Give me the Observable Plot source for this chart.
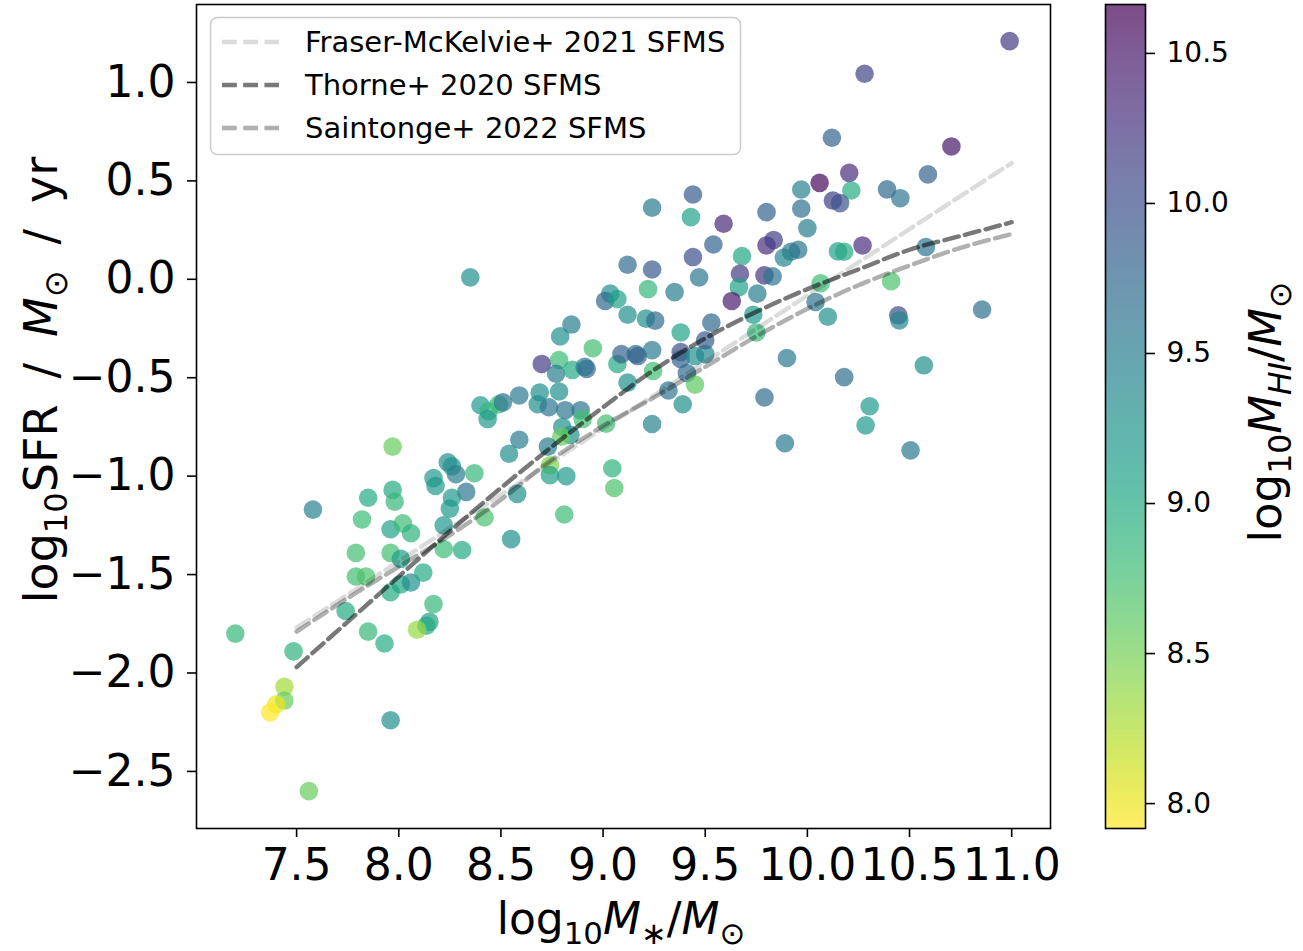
<!DOCTYPE html>
<html>
<head>
<meta charset="utf-8">
<script src="https://cdn.jsdelivr.net/npm/d3@7"></script>
<script src="https://cdn.jsdelivr.net/npm/@observablehq/plot@0.6"></script>
<style>
  html, body { margin: 0; padding: 0; background: white; }
  #wrap { position: relative; width: 1303px; height: 951px; overflow: hidden; font-family: "DejaVu Sans", sans-serif; }
  #main { position: absolute; left: 0; top: 0; }
  #cbar { position: absolute; left: 1090px; top: 0; }
</style>
</head>
<body>
<div id="wrap"><div id="main"></div><div id="cbar"></div></div>
<script>
// ---- data ----
const logMstar = [7.20,7.485,7.74,7.79,7.84,7.96,8.01,8.06,8.12,8.17,8.15,8.135,8.09,7.85,7.93,7.44,7.44,7.40,7.37,7.96,7.56,7.58,7.97,7.85,7.97,7.98,7.82,7.96,8.02,8.06,7.79,7.96,8.01,8.17,8.18,8.24,8.26,8.28,8.37,8.33,8.26,8.25,8.22,8.22,8.31,8.42,8.40,8.44,8.435,8.49,8.51,8.59,8.69,8.785,8.68,8.735,8.815,8.89,8.90,8.80,8.84,8.795,8.59,8.54,8.73,8.74,8.74,8.82,8.58,8.81,8.55,8.35,9.12,9.24,9.44,9.47,9.22,9.35,9.035,9.01,9.07,9.12,9.21,9.255,9.38,8.845,8.79,8.95,8.785,8.70,8.77,8.85,8.91,8.92,9.07,9.09,9.16,9.17,9.24,9.38,9.38,9.45,9.50,9.245,9.41,9.45,9.12,9.32,9.39,9.24,9.015,9.045,9.055,9.24,9.44,9.43,9.59,9.54,9.80,9.97,9.97,10.00,10.06,9.80,9.835,9.885,9.92,9.955,9.68,9.67,9.79,9.83,9.665,9.63,9.755,10.065,10.04,9.735,9.75,9.53,9.50,9.90,9.79,10.12,10.705,10.205,10.215,10.125,10.16,10.59,10.39,10.455,10.15,10.18,10.27,10.10,10.41,10.445,10.45,10.58,10.57,10.18,10.99,10.28,10.855,10.305,10.285,9.89,10.505];
const logSFR = [-1.80,-1.89,-1.685,-1.51,-1.51,-1.59,-1.55,-1.54,-1.49,-1.65,-1.74,-1.76,-1.78,-1.79,-1.85,-2.07,-2.14,-2.16,-2.20,-2.24,-2.60,-1.17,-0.85,-1.11,-1.07,-1.13,-1.22,-1.27,-1.24,-1.29,-1.39,-1.39,-1.42,-1.01,-1.05,-0.93,-0.95,-0.99,-0.985,-1.08,-1.11,-1.165,-1.25,-1.37,-1.375,-1.21,-0.64,-0.67,-0.71,-0.635,-0.625,-0.59,-0.575,-0.57,-0.635,-0.65,-0.665,-0.665,-0.71,-0.75,-0.79,-0.80,-0.815,-0.886,-0.85,-0.945,-0.995,-1.00,-1.09,-1.195,-1.32,0.01,0.074,0.05,0.113,0.01,-0.05,-0.065,-0.073,-0.11,-0.10,-0.18,-0.20,-0.21,-0.27,-0.23,-0.29,-0.35,-0.41,-0.43,-0.48,-0.46,-0.445,-0.455,-0.43,-0.38,-0.38,-0.39,-0.36,-0.37,-0.405,-0.39,-0.38,-0.466,-0.476,-0.535,-0.525,-0.565,-0.635,-0.735,-0.733,-0.96,-1.06,0.364,0.431,0.316,0.282,0.177,0.341,0.456,0.359,0.26,0.49,0.172,0.20,0.11,0.14,0.15,0.118,0.028,0.02,0.015,-0.04,-0.11,-0.073,-0.02,-0.115,-0.18,-0.27,-0.22,-0.31,-0.40,-0.60,0.719,0.675,0.541,0.451,0.40,0.387,0.533,0.457,0.412,0.142,0.14,0.172,-0.19,-0.01,-0.183,-0.209,0.164,-0.437,-0.497,1.21,1.044,-0.154,-0.645,-0.742,-0.833,-0.869];
const logMHI = [8.85,8.9,9.0,8.75,8.7,9.0,9.05,9.3,9.0,8.85,9.1,9.0,8.35,8.85,8.95,8.3,8.55,8.0,7.92,9.3,8.55,9.45,8.55,9.0,9.0,8.85,8.8,9.1,8.8,8.9,8.75,8.75,9.1,9.2,9.2,9.3,9.3,9.5,8.85,9.6,9.2,9.2,9.2,8.8,9.0,8.7,9.2,8.85,9.2,8.85,9.6,9.55,9.3,9.3,9.3,9.6,9.6,9.6,8.75,9.3,9.3,8.55,9.5,9.3,9.5,8.45,9.1,9.2,9.3,8.8,9.3,9.3,9.7,9.9,10.0,9.6,8.85,9.5,9.3,9.75,9.1,9.3,9.3,9.7,9.1,9.5,9.3,8.75,8.8,10.2,9.5,9.0,9.5,9.7,9.0,9.8,9.7,9.8,9.5,10.0,9.8,9.3,9.4,8.75,9.7,8.6,9.3,9.6,9.3,9.45,8.75,8.9,8.7,9.55,9.9,9.1,10.35,9.8,9.8,9.45,9.65,9.5,10.6,10.3,10.15,9.4,9.5,9.6,9.05,10.2,10.25,9.6,9.1,10.45,9.5,8.8,9.6,9.2,8.85,9.75,9.85,9.55,9.7,9.8,10.5,10.3,8.95,10.15,9.95,9.8,9.75,9.6,9.1,9.0,10.3,9.3,8.7,10.05,9.4,9.6,9.3,9.7,10.2,10.1,9.65,9.2,9.2,9.55,9.55];

// SFMS relations
const fraserX = [7.5, 8.5, 9.5, 10.5, 11.0];
const fraserY = [-1.77, -1.095, -0.42, 0.255, 0.59];
const thorneX = [7.5, 7.75, 8.0, 8.25, 8.5, 8.75, 9.0, 9.25, 9.5, 9.75, 10.0, 10.25, 10.5, 10.75, 11.0];
const thorneY = [-1.97, -1.74, -1.51, -1.28, -1.06, -0.85, -0.65, -0.46, -0.30, -0.165, -0.05, 0.05, 0.15, 0.22, 0.29];
const saintX = [7.5, 7.75, 8.0, 8.25, 8.5, 8.75, 9.0, 9.25, 9.5, 9.75, 10.0, 10.25, 10.5, 10.75, 11.0];
const saintY = [-1.79, -1.62, -1.46, -1.30, -1.12, -0.915, -0.745, -0.60, -0.445, -0.29, -0.15, -0.03, 0.07, 0.16, 0.23];

const xTicks = [7.5, 8.0, 8.5, 9.0, 9.5, 10.0, 10.5, 11.0];
const yTicks = [-2.5, -2.0, -1.5, -1.0, -0.5, 0.0, 0.5, 1.0];
const cTicks = [8.0, 8.5, 9.0, 9.5, 10.0, 10.5];
const legendLabels = ["Fraser-McKelvie+ 2021 SFMS", "Thorne+ 2020 SFMS", "Saintonge+ 2022 SFMS"];
const legendOpacity = [0.14, 0.53, 0.31];

// ---- derived tables ----
const points = logMstar.map((x, i) => ({x, y: logSFR[i], c: logMHI[i]}));
const toRows = (xs, ys) => xs.map((x, i) => ({x, y: ys[i]}));
const fraser = toRows(fraserX, fraserY);
const thorne = toRows(thorneX, thorneY);
const saint = toRows(saintX, saintY);

const cDomain = [7.917, 10.663];
const colorScale = {type: "linear", scheme: "viridis", reverse: true, domain: cDomain};
const fmt = d => (d < 0 ? "\u2212" : "") + Math.abs(d).toFixed(1);
const dash = "14.8,6.4";
const lw = 4.4;

const main = Plot.plot({
  width: 1090, height: 951,
  marginLeft: 196, marginRight: 40, marginTop: 4, marginBottom: 123,
  style: {fontFamily: "DejaVu Sans", fontSize: "44px", color: "black", background: "transparent"},
  x: {domain: [7.01, 11.19]},
  y: {domain: [-2.79, 1.396]},
  color: colorScale,
  marks: [
    Plot.dot(points, {x: "x", y: "y", fill: "c", r: 9.3, fillOpacity: 0.7, stroke: "none"}),
    Plot.line(fraser, {x: "x", y: "y", stroke: "black", strokeOpacity: legendOpacity[0], strokeWidth: lw, strokeDasharray: dash}),
    Plot.line(thorne, {x: "x", y: "y", stroke: "black", strokeOpacity: legendOpacity[1], strokeWidth: lw, strokeDasharray: dash, curve: "catmull-rom"}),
    Plot.line(saint, {x: "x", y: "y", stroke: "black", strokeOpacity: legendOpacity[2], strokeWidth: lw, strokeDasharray: dash, curve: "catmull-rom"}),
    Plot.axisX({ticks: xTicks, tickFormat: fmt, tickSize: 9, tickPadding: 11, label: null, fontSize: 44, strokeWidth: 1.6}),
    Plot.axisY({ticks: yTicks, tickFormat: fmt, tickSize: 9, tickPadding: 12, label: null, fontSize: 44, strokeWidth: 1.6}),
    Plot.frame({stroke: "black", strokeWidth: 1.6})
  ]
});
document.getElementById("main").appendChild(main);

const svg = d3.select(main);
// legend
const lg = svg.append("g");
lg.append("rect").attr("x", 210.5).attr("y", 17.5).attr("width", 530).attr("height", 137)
  .attr("rx", 7).attr("fill", "white").attr("fill-opacity", 0.8).attr("stroke", "#cccccc").attr("stroke-width", 1.6);
legendLabels.forEach((lab, i) => {
  const cy = 42 + i * 43;
  lg.append("line").attr("x1", 222).attr("x2", 279).attr("y1", cy).attr("y2", cy)
    .attr("stroke", "black").attr("stroke-opacity", legendOpacity[i]).attr("stroke-width", lw).attr("stroke-dasharray", dash);
  lg.append("text").attr("x", 305).attr("y", cy + 10).attr("font-size", 29).attr("font-family", "DejaVu Sans")
    .attr("text-anchor", "start").attr("fill", "black").text(lab);
});

function mathLabel(sel, parts, size) {
  const t = sel.append("text").attr("font-family", "DejaVu Sans").attr("font-size", size).attr("fill", "black").attr("text-anchor", "middle");
  let shift = 0;
  parts.forEach(p => {
    const ts = t.append("tspan").text(p.t);
    const target = p.sub ? Math.round(size * 0.22) : 0;
    if (target !== shift) { ts.attr("dy", target - shift); shift = target; }
    if (p.dx) ts.attr("dx", p.dx);
    if (p.sub) ts.attr("font-size", size * 0.7);
    if (p.it) ts.attr("font-style", "italic");
  });
  return t;
}
// x label
mathLabel(svg, [{t: "log"}, {t: "10", sub: true}, {t: "M", it: true}, {t: "\u2217", sub: true}, {t: "/"}, {t: "M", it: true}, {t: "\u2299", sub: true}], 44)
  .attr("x", 621).attr("y", 934);
// y label
mathLabel(svg, [{t: "log"}, {t: "10", sub: true}, {t: "SFR"}, {t: "/", dx: 26}, {t: "M", it: true, dx: 26}, {t: "\u2299", sub: true}, {t: "/", dx: 26}, {t: "yr", dx: 26}], 46)
  .attr("transform", "translate(57,380) rotate(-90)");

// ---- colorbar ----
const nb = 400;
const step = (cDomain[1] - cDomain[0]) / nb;
const bands = d3.range(0, nb).map(i => cDomain[0] + step * i);
const cbar = Plot.plot({
  width: 213, height: 951,
  marginLeft: 15, marginRight: 158, marginTop: 4, marginBottom: 123,
  style: {fontFamily: "DejaVu Sans", fontSize: "28px", color: "black", background: "transparent"},
  x: {domain: [0, 1], axis: null},
  y: {domain: cDomain},
  color: colorScale,
  marks: [
    Plot.rect(bands, {x1: 0, x2: 1, y1: d => d, y2: d => Math.min(cDomain[1], d + step * 2), fill: d => d + step / 2}),
    Plot.rect([cDomain], {x1: 0, x2: 1, y1: d => d[0], y2: d => d[1], fill: "white", fillOpacity: 0.3}),
    Plot.axisY({anchor: "right", ticks: cTicks, tickFormat: fmt, tickSize: 9, tickPadding: 12, label: null, fontSize: 28, strokeWidth: 1.6}),
    Plot.frame({stroke: "black", strokeWidth: 1.6})
  ]
});
document.getElementById("cbar").appendChild(cbar);
mathLabel(d3.select(cbar), [{t: "log"}, {t: "10", sub: true}, {t: "M", it: true}, {t: "HI", sub: true, it: true}, {t: "/"}, {t: "M", it: true}, {t: "\u2299", sub: true}], 45)
  .attr("transform", "translate(191,412) rotate(-90)");
</script>
</body>
</html>
